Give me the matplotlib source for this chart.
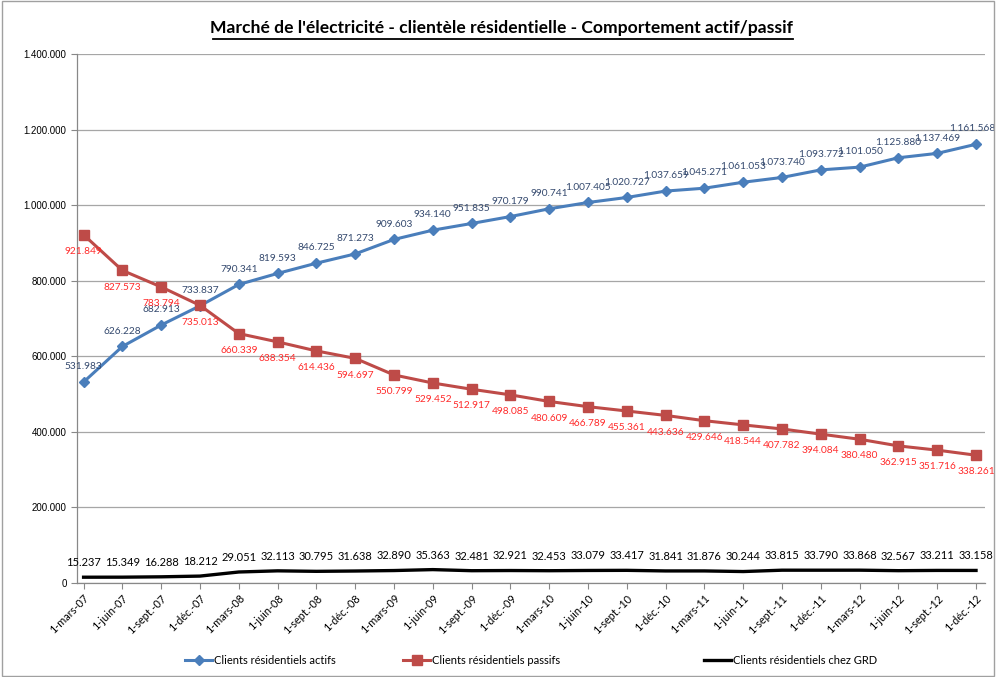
import matplotlib.pyplot as plt
import matplotlib.patches as mpatches
import numpy as np

# Dates (axe des catégories)
dates = ['1-mars-07', '1-juin-07', '1-sept.-07', '1-déc.-07',
         '1-mars-08', '1-juin-08', '1-sept.-08', '1-déc.-08',
         '1-mars-09', '1-juin-09', '1-sept.-09', '1-déc.-09',
         '1-mars-10', '1-juin-10', '1-sept.-10', '1-déc.-10',
         '1-mars-11', '1-juin-11', '1-sept.-11', '1-déc.-11',
         '1-mars-12', '1-juin-12', '1-sept.-12', '1-déc.-12']

actifs = [531983, 626228, 682913, 733837, 790341, 819593, 846725, 871273,
          909603, 934140, 951835, 970179, 990741, 1007405, 1020727, 1037659,
          1045271, 1061053, 1073740, 1093772, 1101050, 1125880, 1137469, 1161568]

passifs = [921849, 827573, 783794, 735013, 660339, 638354, 614436, 594697,
           550799, 529452, 512917, 498085, 480609, 466789, 455361, 443636,
           429646, 418544, 407782, 394084, 380480, 362915, 351716, 338261]

grd = [15237, 15349, 16288, 18212, 29051, 32113, 30795, 31638,
       32890, 35363, 32481, 32921, 32453, 33079, 33417, 31841,
       31876, 30244, 33815, 33790, 33868, 32567, 33211, 33158]

yticks = [0, 200000, 400000, 600000, 800000, 1000000, 1200000, 1400000]


def fmt(v):
    return f"{v:,}".replace(",", ".")


label_font = 'Lato'
axis_font = 'Liberation Sans'

fig = plt.figure(figsize=(9.96, 6.77), dpi=100)
ax = fig.add_axes([0.0773, 0.1389, 0.9116, 0.781])

x = np.arange(len(dates))

l1, = ax.plot(x, actifs, color='#4A7EBB', lw=2.2, marker='D', ms=5,
              label='Clients résidentiels actifs', zorder=3)
l2, = ax.plot(x, passifs, color='#BE4B48', lw=2.2, marker='s', ms=7.5,
              label='Clients résidentiels passifs', zorder=3)
l3, = ax.plot(x, grd, color='black', lw=2.4, label='Clients résidentiels chez GRD', zorder=3)

# étiquettes de données
for i, (xi, v) in enumerate(zip(x, actifs)):
    dx = -3 if i == len(x) - 1 else 0
    ax.annotate(fmt(v), (xi, v), xytext=(dx, 11), textcoords='offset points',
                ha='center', va='center', fontsize=7.3, color='#34496E',
                family=label_font)
for xi, v in zip(x, passifs):
    ax.annotate(fmt(v), (xi, v), xytext=(0, -12), textcoords='offset points',
                ha='center', va='center', fontsize=7.3, color='#FF2A2A',
                family=label_font)
for xi, v in zip(x, grd):
    ax.annotate(fmt(v), (xi, v), xytext=(0, 10.5), textcoords='offset points',
                ha='center', va='center', fontsize=8, color='black',
                family=label_font)

ax.set_xlim(-0.17, 23.23)
ax.set_ylim(0, 1400000)
ax.set_yticks(yticks)
ax.set_yticklabels([fmt(v) for v in yticks], family=axis_font, fontsize=7)
ax.set_xticks(x)
ax.set_xticklabels(dates, rotation=45, ha='right', rotation_mode='anchor',
                   family=label_font, fontsize=7.8)
ax.tick_params(axis='both', color='#888888', length=4, width=0.8)
ax.tick_params(axis='x', pad=3)

ax.grid(axis='y', color='#A6A6A6', lw=0.9)
ax.set_axisbelow(True)
for s in ['top', 'right']:
    ax.spines[s].set_visible(False)
for s in ['left', 'bottom']:
    ax.spines[s].set_color('#888888')
    ax.spines[s].set_linewidth(0.9)

fig.text(0.5035, 0.959, "Marché de l'électricité - clientèle résidentielle - Comportement actif/passif",
         ha='center', va='center', fontsize=12.6, fontweight='bold',
         family=label_font, color='black')
# soulignement du titre
fig.add_artist(plt.Line2D([0.214, 0.796], [0.942, 0.942], color='black', lw=1.3))

# légende : trois entrées placées séparément comme dans Excel
for line, x0 in [(l1, 0.186), (l2, 0.405), (l3, 0.707)]:
    leg = fig.legend(handles=[line], loc='center left', bbox_to_anchor=(x0, 0.024),
                     frameon=False, prop={'family': label_font, 'size': 8},
                     handlelength=2.4, handletextpad=0.2, borderaxespad=0, borderpad=0)

# bordure du graphique
fig.add_artist(mpatches.Rectangle((0.002, 0.002), 0.996, 0.996, transform=fig.transFigure,
                                  fill=False, edgecolor='#A0A0A0', lw=1))

fig.savefig('out.png', dpi=100)
